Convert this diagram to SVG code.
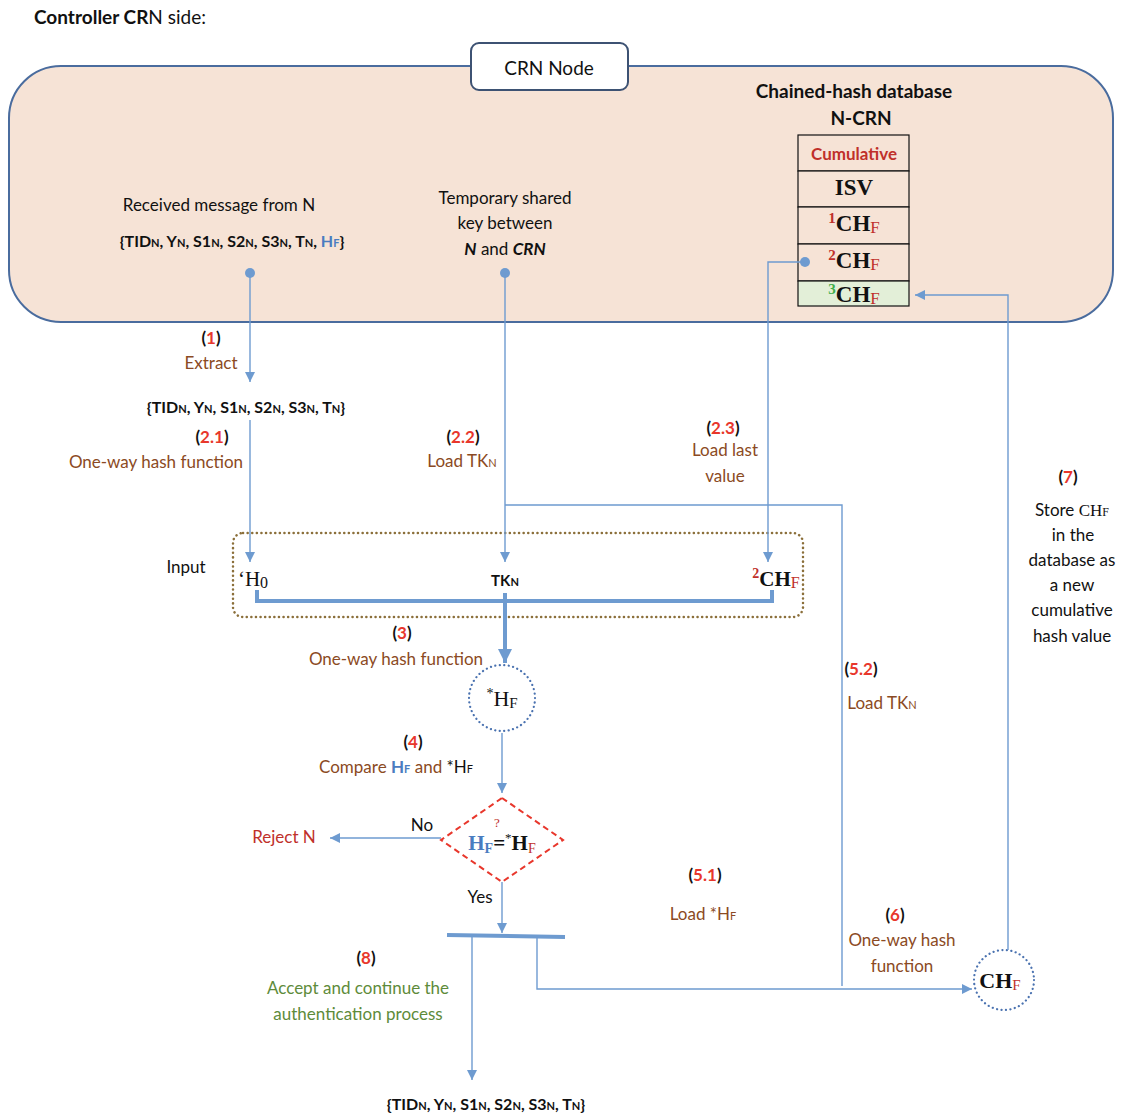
<svg xmlns="http://www.w3.org/2000/svg" width="1128" height="1117" viewBox="0 0 1128 1117">
<defs>
  <marker id="arr" viewBox="0 0 10 10" refX="10" refY="5" markerWidth="10" markerHeight="10" markerUnits="userSpaceOnUse" orient="auto">
    <path d="M0,0 L10,5 L0,10 Z" fill="#6e9bd0"/>
  </marker>
  <marker id="arrBig" viewBox="0 0 10 10" refX="10" refY="5" markerWidth="14" markerHeight="14" markerUnits="userSpaceOnUse" orient="auto">
    <path d="M0,0 L10,5 L0,10 Z" fill="#6e9bd0"/>
  </marker>
</defs>
<style>
  text { font-family: Lato, "Open Sans", "Liberation Sans", sans-serif; font-size: 17px; fill: #111; }
  .c { text-anchor: middle; }
  .b { font-weight: bold; }
  .br { fill: #8b4a23; }
  .rd { fill: #e8372c; }
  .dr { fill: #c0302a; }
  .bl { fill: #4a7cc0; }
  .gr { fill: #5e8b3a; }
  .gn { fill: #3fae4a; }
  .sr { font-family: "Liberation Serif", "Times New Roman", serif; }
  .sub { font-size: 11px; }
  .ln { stroke: #6e9bd0; stroke-width: 1.4; fill: none; }
  .thick { stroke: #6e9bd0; stroke-width: 4; fill: none; }
  .cell { fill: #f6e3d6; stroke: #111; stroke-width: 1.2; }
  .dotc { fill: #fff; stroke: #4a72b0; stroke-width: 2.2; stroke-dasharray: 0.1 4.4; stroke-linecap: round; }
</style>

<rect width="1128" height="1117" fill="#fff"/>

<text x="34" y="24" style="font-size:19px"><tspan class="b">Controller CR</tspan>N side:</text>

<!-- CRN node container -->
<g id="crn-node">
  <rect x="9" y="66" width="1104" height="256" rx="52" fill="#f6e3d6" stroke="#4a6c9e" stroke-width="2"/>
  <rect x="471" y="43" width="157" height="47" rx="8" fill="#fff" stroke="#3d5273" stroke-width="2"/>
  <text x="549" y="75" class="c" style="font-size:19px">CRN Node</text>
</g>

<!-- received message -->
<g id="received-msg">
  <text x="219" y="211" class="c">Received message from N</text>
  <text x="232" y="247" class="c b" style="font-size:16px">{TID<tspan class="sub">N</tspan>, Y<tspan class="sub">N</tspan>, S1<tspan class="sub">N</tspan>, S2<tspan class="sub">N</tspan>, S3<tspan class="sub">N</tspan>, T<tspan class="sub">N</tspan>, <tspan class="bl">H<tspan class="sub">F</tspan></tspan>}</text>
</g>

<!-- temporary key -->
<g id="temp-key">
  <text x="505" y="204" class="c">Temporary shared</text>
  <text x="505" y="229" class="c">key between</text>
  <text x="505" y="255" class="c"><tspan class="b" font-style="italic">N</tspan> and <tspan class="b" font-style="italic">CRN</tspan></text>
</g>

<!-- chained-hash database -->
<g id="database">
  <text x="854" y="98" class="c b" style="font-size:19px">Chained-hash database</text>
  <text x="861" y="125" class="c b" style="font-size:19px">N-CRN</text>
  <rect class="cell" x="798" y="135" width="111" height="36"/>
  <rect class="cell" x="798" y="171" width="111" height="36"/>
  <rect class="cell" x="798" y="207" width="111" height="37"/>
  <rect class="cell" x="798" y="244" width="111" height="37"/>
  <rect class="cell" x="798" y="281" width="111" height="25" style="fill:#e3efd8"/>
  <text x="854" y="160" class="c b dr" style="font-size:17px">Cumulative</text>
  <text x="854" y="195" class="c b sr" style="font-size:23px">ISV</text>
  <text x="854" y="231" class="c b sr" style="font-size:23px"><tspan class="dr" font-size="15" dy="-8">1</tspan><tspan dy="8">CH</tspan><tspan class="dr" font-size="17" font-weight="normal" dy="2">F</tspan></text>
  <text x="854" y="268" class="c b sr" style="font-size:23px"><tspan class="dr" font-size="15" dy="-8">2</tspan><tspan dy="8">CH</tspan><tspan class="dr" font-size="17" font-weight="normal" dy="2">F</tspan></text>
  <text x="854" y="302" class="c b sr" style="font-size:23px"><tspan class="gn" font-size="15" dy="-8">3</tspan><tspan dy="8">CH</tspan><tspan class="dr" font-size="17" font-weight="normal" dy="2">F</tspan></text>
</g>

<!-- input group -->
<g id="input">
  <rect x="233" y="533" width="570" height="84" rx="10" fill="none" stroke="#8b6f3a" stroke-width="2.5" stroke-dasharray="0.1 4.5" stroke-linecap="round"/>
  <text x="186" y="573" class="c">Input</text>
  <text x="253" y="586" class="c sr" style="font-size:21px">‘H<tspan font-size="16" dy="2">0</tspan></text>
  <text x="505" y="586" class="c b" style="font-size:15px">TK<tspan class="sub">N</tspan></text>
  <text x="776" y="586" class="c b sr" style="font-size:21px"><tspan class="dr" font-size="14" dy="-8">2</tspan><tspan dy="8">CH</tspan><tspan class="dr" font-size="16" font-weight="normal" dy="2">F</tspan></text>
</g>

<!-- hash result *HF -->
<g id="hash-result">
  <circle class="dotc" cx="502" cy="698" r="33"/>
  <text x="502" y="706" class="c sr" style="font-size:22px"><tspan font-size="14" dy="-8">*</tspan><tspan dy="8">H</tspan><tspan font-size="15" dy="2">F</tspan></text>
</g>

<!-- comparison decision -->
<g id="decision">
  <polygon points="502,798 563,840 502,882 441,840" fill="#fff" stroke="#e8372c" stroke-width="2" stroke-dasharray="6 4"/>
  <text x="502" y="850" class="c b sr" style="font-size:21px"><tspan class="bl">H</tspan><tspan class="bl" font-size="14" dy="3">F</tspan><tspan dy="-3">=</tspan><tspan font-size="13" font-weight="normal" dy="-8">*</tspan><tspan dy="8">H</tspan><tspan class="dr" font-size="14" font-weight="normal" dy="3">F</tspan></text>
  <text x="497" y="827" class="c sr dr" style="font-size:13px">?</text>
</g>

<!-- CHF result -->
<g id="chf-result">
  <circle class="dotc" cx="1004" cy="980" r="30"/>
  <text x="1000" y="988" class="c b sr" style="font-size:22px">CH<tspan class="dr" font-size="15" font-weight="normal" dy="2">F</tspan></text>
</g>

<!-- accept bar -->
<g id="join-bar">
  <line class="thick" x1="447" y1="935" x2="565" y2="937"/>
</g>

<!-- connectors -->
<g id="connectors">
  <circle cx="250" cy="273" r="5" fill="#6e9bd0"/>
  <circle cx="505" cy="273" r="5" fill="#6e9bd0"/>
  <circle cx="805" cy="262" r="5" fill="#6e9bd0"/>
  <path class="ln" d="M250,273 V382" marker-end="url(#arr)"/>
  <path class="ln" d="M250,420 V562" marker-end="url(#arr)"/>
  <path class="ln" d="M505,273 V562" marker-end="url(#arr)"/>
  <path class="ln" d="M805,262 H768 V562" marker-end="url(#arr)"/>
  <path class="ln" d="M505,505 H842 V986"/>
  <path class="thick" d="M257,590 V601 H772 V590"/>
  <path class="thick" d="M505,593 V663" marker-end="url(#arrBig)"/>
  <path class="ln" d="M502,733 V793" marker-end="url(#arr)"/>
  <path class="ln" d="M441,838 H330" marker-end="url(#arr)"/>
  <path class="ln" d="M502,882 V933" marker-end="url(#arr)"/>
  <path class="ln" d="M472,937 V1080" marker-end="url(#arr)"/>
  <path class="ln" d="M537,937 V989 H972" marker-end="url(#arr)"/>
  <path class="ln" d="M1008,950 V295 H915" marker-end="url(#arr)"/>
</g>

<!-- step labels -->
<g id="labels">
  <text x="211" y="344" class="c b">(<tspan class="rd">1</tspan>)</text>
  <text x="211" y="369" class="c br">Extract</text>
  <text x="246" y="413" class="c b" style="font-size:16px">{TID<tspan class="sub">N</tspan>, Y<tspan class="sub">N</tspan>, S1<tspan class="sub">N</tspan>, S2<tspan class="sub">N</tspan>, S3<tspan class="sub">N</tspan>, T<tspan class="sub">N</tspan>}</text>
  <text x="212" y="443" class="c b">(<tspan class="rd">2.1</tspan>)</text>
  <text x="156" y="468" class="c br">One-way hash function</text>
  <text x="463" y="443" class="c b">(<tspan class="rd">2.2</tspan>)</text>
  <text x="462" y="467" class="c br">Load TK<tspan class="sub">N</tspan></text>
  <text x="723" y="434" class="c b">(<tspan class="rd">2.3</tspan>)</text>
  <text x="725" y="456" class="c br">Load last</text>
  <text x="725" y="482" class="c br">value</text>
  <text x="1068" y="483" class="c b">(<tspan class="rd">7</tspan>)</text>
  <text x="1072" y="516" class="c">Store <tspan class="sr">CH<tspan font-size="12">F</tspan></tspan></text>
  <text x="1073" y="541" class="c">in the</text>
  <text x="1072" y="566" class="c">database as</text>
  <text x="1072" y="591" class="c">a new</text>
  <text x="1072" y="616" class="c">cumulative</text>
  <text x="1072" y="642" class="c">hash value</text>
  <text x="402" y="639" class="c b">(<tspan class="rd">3</tspan>)</text>
  <text x="396" y="665" class="c br">One-way hash function</text>
  <text x="861" y="675" class="c b">(<tspan class="rd">5.2</tspan>)</text>
  <text x="882" y="709" class="c br">Load TK<tspan class="sub">N</tspan></text>
  <text x="413" y="748" class="c b">(<tspan class="rd">4</tspan>)</text>
  <text x="396" y="773" class="c br">Compare <tspan class="bl b">H<tspan class="sub">F</tspan></tspan> and <tspan fill="#111">*H<tspan class="sub">F</tspan></tspan></text>
  <text x="422" y="831" class="c">No</text>
  <text x="284" y="843" class="c dr">Reject N</text>
  <text x="480" y="903" class="c">Yes</text>
  <text x="705" y="881" class="c b">(<tspan class="rd">5.1</tspan>)</text>
  <text x="703" y="920" class="c br">Load *H<tspan class="sub">F</tspan></text>
  <text x="895" y="921" class="c b">(<tspan class="rd">6</tspan>)</text>
  <text x="902" y="946" class="c br">One-way hash</text>
  <text x="902" y="972" class="c br">function</text>
  <text x="366" y="964" class="c b">(<tspan class="rd">8</tspan>)</text>
  <text x="358" y="994" class="c gr">Accept and continue the</text>
  <text x="358" y="1020" class="c gr">authentication process</text>
  <text x="486" y="1110" class="c b" style="font-size:16px">{TID<tspan class="sub">N</tspan>, Y<tspan class="sub">N</tspan>, S1<tspan class="sub">N</tspan>, S2<tspan class="sub">N</tspan>, S3<tspan class="sub">N</tspan>, T<tspan class="sub">N</tspan>}</text>
</g>
</svg>
